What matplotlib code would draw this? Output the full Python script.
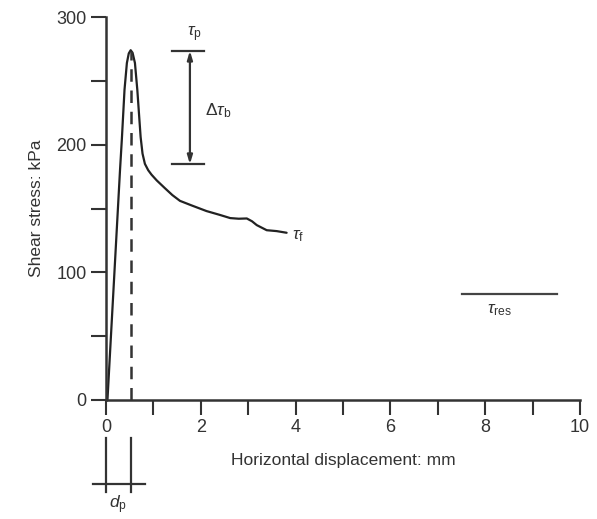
import matplotlib
matplotlib.use("Agg")
import matplotlib.pyplot as plt

plt.rcParams['font.family'] = ['Liberation Sans', 'DejaVu Sans']
plt.rcParams['mathtext.fontset'] = 'custom'
plt.rcParams['mathtext.rm'] = 'Liberation Sans'
plt.rcParams['mathtext.it'] = 'Liberation Sans:italic'

# stress-displacement curve
disp = [0.03, 0.17, 0.295, 0.335, 0.39, 0.44, 0.48, 0.52, 0.56, 0.61, 0.66,
        0.73, 0.77, 0.82, 0.89, 0.96, 1.07, 1.24, 1.40, 1.56, 1.80, 2.12,
        2.40, 2.62, 2.80, 2.97, 3.08, 3.18, 3.39, 3.60, 3.81]
stress = [0, 95, 180, 205, 243, 264, 271.5, 274, 272, 264, 243,
          206, 193, 185, 180, 176.5, 172, 166, 160.5, 156, 152.5, 148,
          145, 142.5, 142, 142.2, 140, 137, 133, 132.3, 131]

peak_disp = 0.52
tau_p = 273.6
tau_b = 184.7
tau_res = 83
res_span = [7.51, 9.51]
brace_span = [1.39, 2.07]
arrow_x = 1.77

xticks = [0, 2, 4, 6, 8, 10]
xminor = [1, 3, 5, 7, 9]
yticks = [0, 100, 200, 300]
yminor = [50, 150, 250]

ink = '#333333'

fig = plt.figure(figsize=(5.97, 5.19), dpi=100)
ax = fig.add_axes([0.1776, 0.2293, 0.7939, 0.7379])

ax.plot(disp, stress, color='#222222', lw=1.6, solid_joinstyle='round',
        solid_capstyle='round')
ax.plot([peak_disp, peak_disp], [0, tau_p], color='#333333', lw=1.8,
        dashes=(5, 3.5))

# peak / post-peak drop annotation
ax.plot(brace_span, [tau_p, tau_p], color=ink, lw=1.6)
ax.plot(brace_span, [tau_b, tau_b], color=ink, lw=1.6)
ax.annotate('', xy=(arrow_x, tau_p), xytext=(arrow_x, tau_b),
            arrowprops=dict(arrowstyle='<|-|>,head_length=0.5,head_width=0.15',
                            color=ink, lw=1.6, shrinkA=0, shrinkB=0))
ax.text(1.86, tau_p + 5, r'$\tau_\mathrm{p}$', color=ink, fontsize=12.5,
        ha='center', va='bottom')
ax.text(2.08, 227, r'$\Delta\tau_\mathrm{b}$', color=ink, fontsize=12.5,
        ha='left', va='center')
ax.text(3.93, 128, r'$\tau_\mathrm{f}$', color=ink, fontsize=12.5,
        ha='left', va='center')

ax.plot(res_span, [tau_res, tau_res], color='#444444', lw=1.6)
ax.text(8.3, 70, r'$\tau_\mathrm{res}$', color=ink, fontsize=12.5,
        ha='center', va='center')

# d_p bracket below the axis
ax.plot([0, 0], [-30, -72], color=ink, lw=1.6, clip_on=False)
ax.plot([peak_disp, peak_disp], [-30, -72], color=ink, lw=1.6, clip_on=False)
ax.plot([-0.27, 0.82], [-66, -66], color=ink, lw=1.6, clip_on=False)
ax.text(0.26, -82, r'$d_\mathrm{p}$', color=ink, fontsize=12.5,
        ha='center', va='center')

ax.set_xlim(0, 10)
ax.set_ylim(0, 300)
ax.set_xticks(xticks)
ax.set_xticks(xminor, minor=True)
ax.set_yticks(yticks)
ax.set_yticks(yminor, minor=True)
ax.tick_params(which='both', direction='out', length=11, width=1.5,
               color=ink, labelcolor=ink, labelsize=13, pad=3)

for s in ['top', 'right']:
    ax.spines[s].set_visible(False)
for s in ['left', 'bottom']:
    ax.spines[s].set_color(ink)
    ax.spines[s].set_linewidth(1.8)

ax.set_xlabel('Horizontal displacement: mm', color=ink, fontsize=12.5,
              labelpad=12)
ax.set_ylabel('Shear stress: kPa', color=ink, fontsize=12.5, labelpad=9)

fig.savefig('out.png', dpi=100)
